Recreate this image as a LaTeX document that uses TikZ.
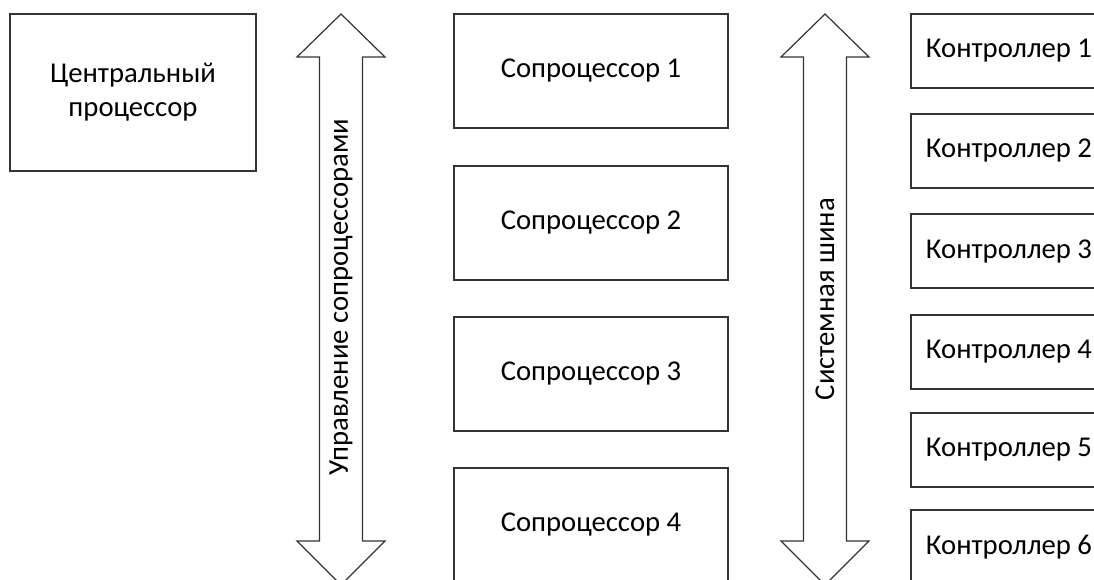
\documentclass[tikz,border=0pt]{standalone}
\usepackage{fontspec}
\setmainfont{Carlito}
\usepackage{tikz}
\tikzset{
  unitbox/.style={draw=black!80, line width=1.2pt, fill=white, align=center, font=\fontsize{28.7}{34}\selectfont},
  cpubox/.style={unitbox, minimum width=246pt, minimum height=157pt},
  copbox/.style={unitbox, minimum width=274pt, minimum height=114pt},
  ctlbox/.style={unitbox, minimum width=196pt, minimum height=74pt},
  busarrow/.style={draw=black!80, line width=1.2pt, fill=white, line join=miter},
  buslabel/.style={rotate=90, font=\fontsize{28.7}{34}\selectfont}
}

\begin{document}
\begin{tikzpicture}[x=1pt, y=-1pt]
  \useasboundingbox (0,0) rectangle (1094,580);
  \clip (0,0) rectangle (1094,580);

  % central processor
  \node[cpubox] (cpu) at (133,92.5) {Центральный\\процессор};

  % coprocessor control bus
  \draw[busarrow] (341,14) -- (385,57) -- (362.5,57) -- (362.5,541) -- (385,541)
    -- (341,585) -- (297,541) -- (319.5,541) -- (319.5,57) -- (297,57) -- cycle;
  \node[buslabel] (copbus) at (341,297) {Управление сопроцессорами};

  % coprocessors
  \node[copbox] (cop1) at (591,71) {Сопроцессор 1};
  \node[copbox] (cop2) at (591,223) {Сопроцессор 2};
  \node[copbox] (cop3) at (591,374) {Сопроцессор 3};
  \node[copbox] (cop4) at (591,525) {Сопроцессор 4};

  % system bus
  \draw[busarrow] (825,14) -- (869,57) -- (846.5,57) -- (846.5,541) -- (869,541)
    -- (825,585) -- (781,541) -- (803.5,541) -- (803.5,57) -- (781,57) -- cycle;
  \node[buslabel] (sysbus) at (825,299) {Системная шина};

  % controllers
  \node[ctlbox] (ctl1) at (1009,51) {Контроллер 1};
  \node[ctlbox] (ctl2) at (1009,151) {Контроллер 2};
  \node[ctlbox] (ctl3) at (1009,251) {Контроллер 3};
  \node[ctlbox] (ctl4) at (1009,352) {Контроллер 4};
  \node[ctlbox] (ctl5) at (1009,450) {Контроллер 5};
  \node[ctlbox] (ctl6) at (1009,547) {Контроллер 6};
\end{tikzpicture}
\end{document}
